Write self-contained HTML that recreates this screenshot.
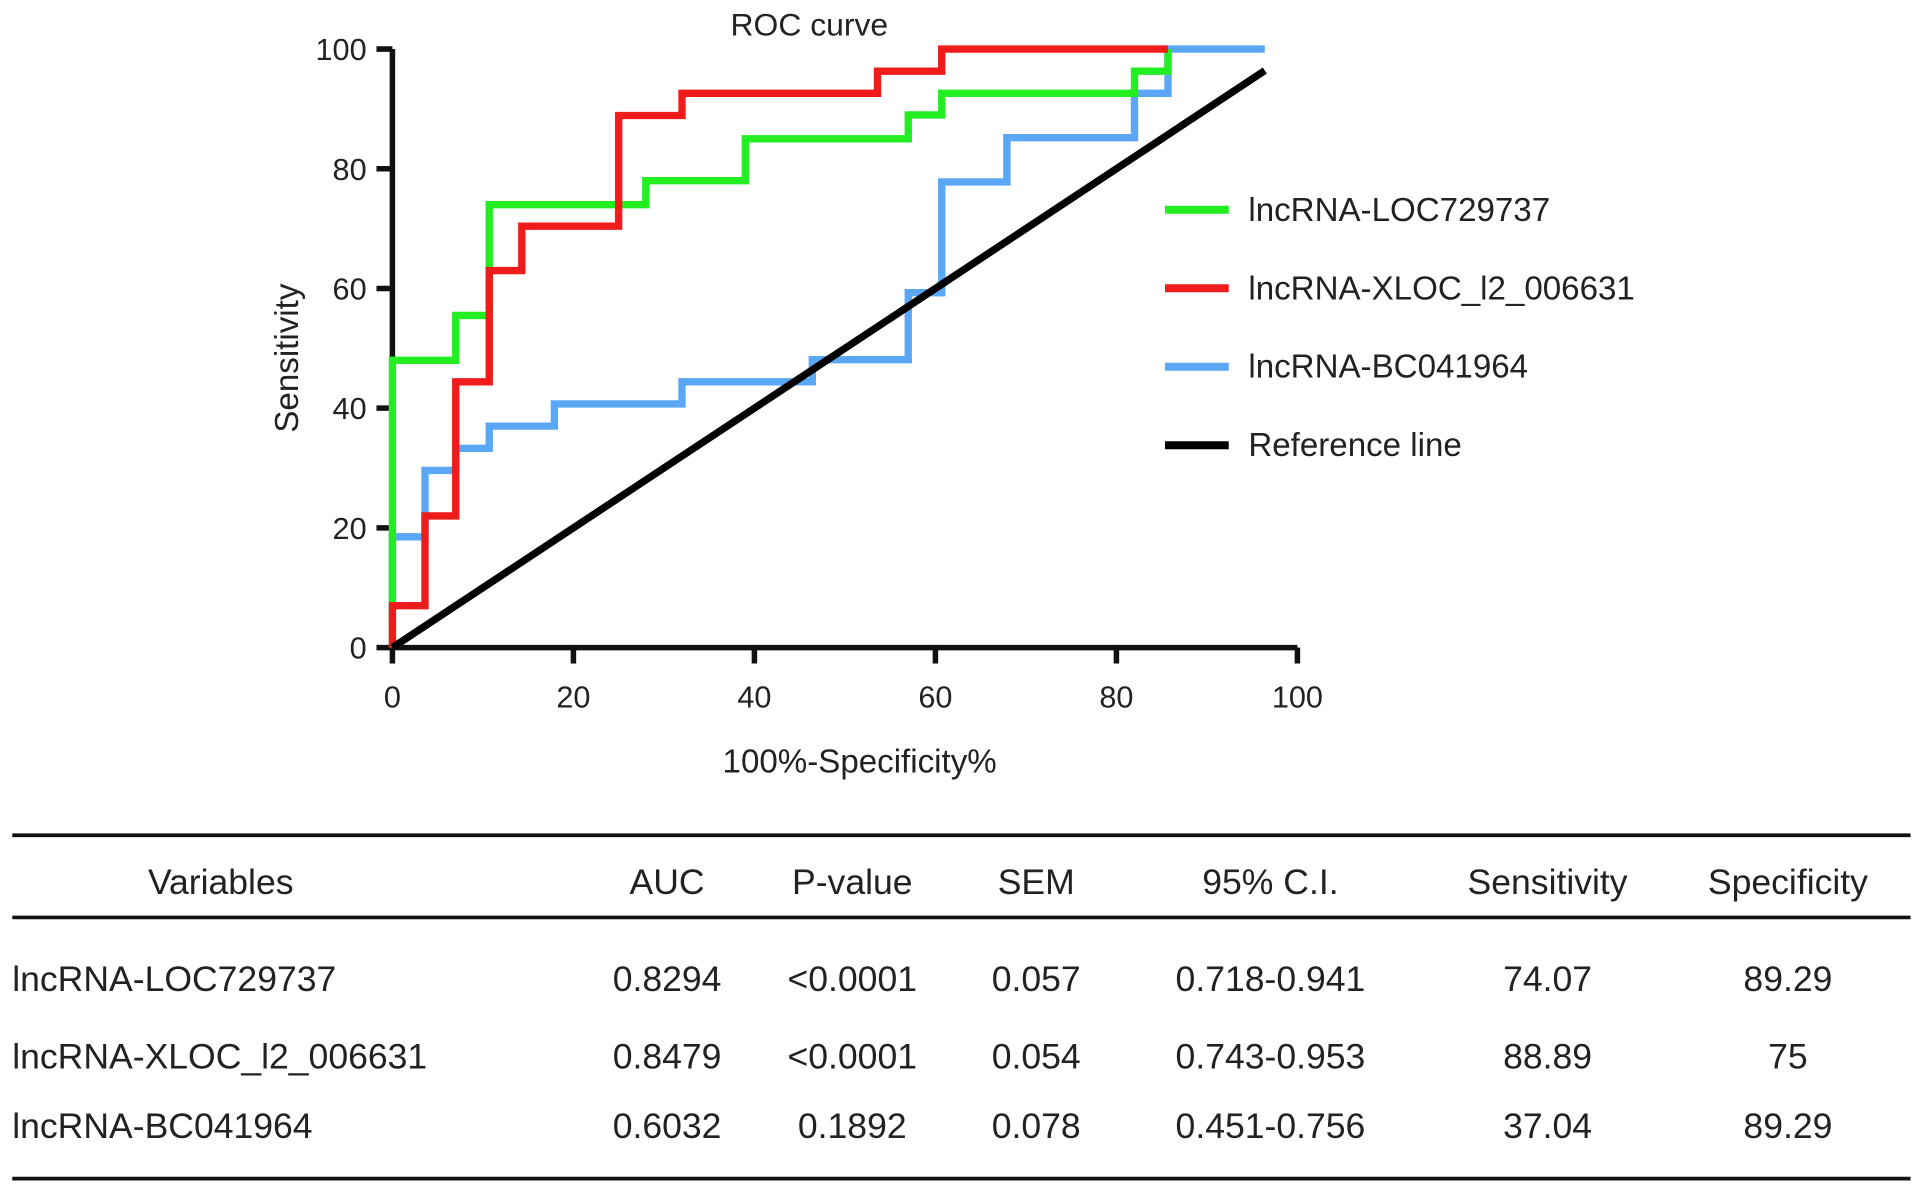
<!DOCTYPE html>
<html><head><meta charset="utf-8"><style>
html,body{margin:0;padding:0;background:#fff}
svg{display:block}
text{font-family:"Liberation Sans",Arial,sans-serif;fill:#222}
</style></head><body>
<svg id="chart" width="1913" height="1186" viewBox="0 0 1560 967" preserveAspectRatio="none" xmlns="http://www.w3.org/2000/svg">
<text x="660" y="29" font-size="26" text-anchor="middle">ROC curve</text>
<g id="plot"></g>
<text transform="translate(243,292) rotate(-90)" font-size="27" text-anchor="middle">Sensitivity</text>
<text x="701" y="630" font-size="27" text-anchor="middle">100%-Specificity%</text>
<g id="legend"></g>
<g id="table"></g>
</svg>
<script>
const xTicks=[0,20,40,60,80,100];
const yTicks=[0,20,40,60,80,100];
const seriesNames=["lncRNA-LOC729737","lncRNA-XLOC_l2_006631","lncRNA-BC041964","Reference line"];
const greenX=[0,0,7,7,10.7,10.7,28,28,39,39,57,57,60.7,60.7,82,82,85.7,85.7];
const greenY=[0,48,48,55.5,55.5,74,74,78,78,85,85,89,89,92.6,92.6,96.3,96.3,100];
const redX=[0,0,3.6,3.6,7,7,10.7,10.7,14.3,14.3,25,25,32,32,53.6,53.6,60.7,60.7,85.7];
const redY=[0,7,7,22,22,44.4,44.4,63,63,70.4,70.4,88.9,88.9,92.6,92.6,96.3,96.3,100,100];
const blueX=[0,0,3.6,3.6,7,7,10.7,10.7,17.9,17.9,32,32,46.4,46.4,57,57,60.7,60.7,67.9,67.9,82,82,85.7,85.7,96.4];
const blueY=[3.7,18.5,18.5,29.6,29.6,33.3,33.3,37,37,40.7,40.7,44.4,44.4,48.1,48.1,59.3,59.3,77.8,77.8,85.2,85.2,92.6,92.6,100,100];
const refX=[0,96.4];
const refY=[0,96.4];
const tableHeaders=["Variables","AUC","P-value","SEM","95% C.I.","Sensitivity","Specificity"];
const tableRows=[
["lncRNA-LOC729737","0.8294","<0.0001","0.057","0.718-0.941","74.07","89.29"],
["lncRNA-XLOC_l2_006631","0.8479","<0.0001","0.054","0.743-0.953","88.89","75"],
["lncRNA-BC041964","0.6032","0.1892","0.078","0.451-0.756","37.04","89.29"]];

const NS="http://www.w3.org/2000/svg";
const X0=320,X1=1058,Y0=528,Y1=40;
const sx=v=>X0+(X1-X0)*v/100;
const sy=v=>Y0-(Y0-Y1)*v/100;
function mk(tag,attrs,parent){const e=document.createElementNS(NS,tag);for(const k in attrs)e.setAttribute(k,attrs[k]);parent.appendChild(e);return e;}
const plot=document.getElementById('plot');
let ax=mk('line',{x1:X0,y1:Y0,x2:X1,y2:Y0,stroke:'#111','stroke-width':4.5},plot);


let ay=mk('line',{x1:X0,y1:Y0+2,x2:X0,y2:Y1,stroke:'#111','stroke-width':4.5},plot);


xTicks.forEach(t=>{
 const l=mk('line',{x1:sx(t),y1:Y0,x2:sx(t),y2:Y0+13,stroke:'#111','stroke-width':4.5},plot);
 
 
 const tx=mk('text',{x:sx(t),y:Y0+49,'font-size':25,'text-anchor':'middle'},plot);tx.textContent=t;
 
 
});
yTicks.forEach(t=>{
 const l=mk('line',{x1:X0-13,y1:sy(t),x2:X0,y2:sy(t),stroke:'#111','stroke-width':4.5},plot);
 
 
 const tx=mk('text',{x:X0-21,y:sy(t)+9,'font-size':25,'text-anchor':'end'},plot);tx.textContent=t;
 
 
});
const series=[[blueX,blueY,'#5aa8f5','series-bc041964'],[greenX,greenY,'#22ee22','series-loc729737'],[redX,redY,'#f01c1c','series-xloc-l2-006631'],[refX,refY,'#000','reference-line']];
series.forEach(([xs,ys,c,n])=>{
 const d=xs.map((x,i)=>(i?'L':'M')+sx(x)+','+sy(ys[i])).join(' ');
 const p=mk('path',{d:d,fill:'none',stroke:c,'stroke-width':6,'stroke-linejoin':'miter'},plot);
 
 
});
const lg=document.getElementById('legend');
const lcol=['#22ee22','#f01c1c','#5aa8f5','#000'];
seriesNames.forEach((s,i)=>{
 const y=171+i*64;
 const l=mk('line',{x1:950,y1:y,x2:1002,y2:y,stroke:lcol[i],'stroke-width':6.5},lg);
 
 
 const t=mk('text',{x:1018,y:y+9,'font-size':27},lg);t.textContent=s;
 
 
});
const tb=document.getElementById('table');
[681,748,961].forEach(y=>{
 const l=mk('line',{x1:10,y1:y,x2:1558,y2:y,stroke:'#111','stroke-width':3},tb);
 
 
});
const colX=[180,544,695,845,1036,1262,1458];
tableHeaders.forEach((h,i)=>{
 const t=mk('text',{x:colX[i],y:729,'font-size':29,'text-anchor':'middle'},tb);t.textContent=h;
 
 
});
const rowY=[808,871,928];
tableRows.forEach((r,ri)=>{
 r.forEach((v,ci)=>{
  const t=mk('text',ci===0?{x:10,y:rowY[ri],'font-size':29}:{x:colX[ci],y:rowY[ri],'font-size':29,'text-anchor':'middle'},tb);
  t.textContent=v;
  
  
 });
});
</script>
</body></html>
